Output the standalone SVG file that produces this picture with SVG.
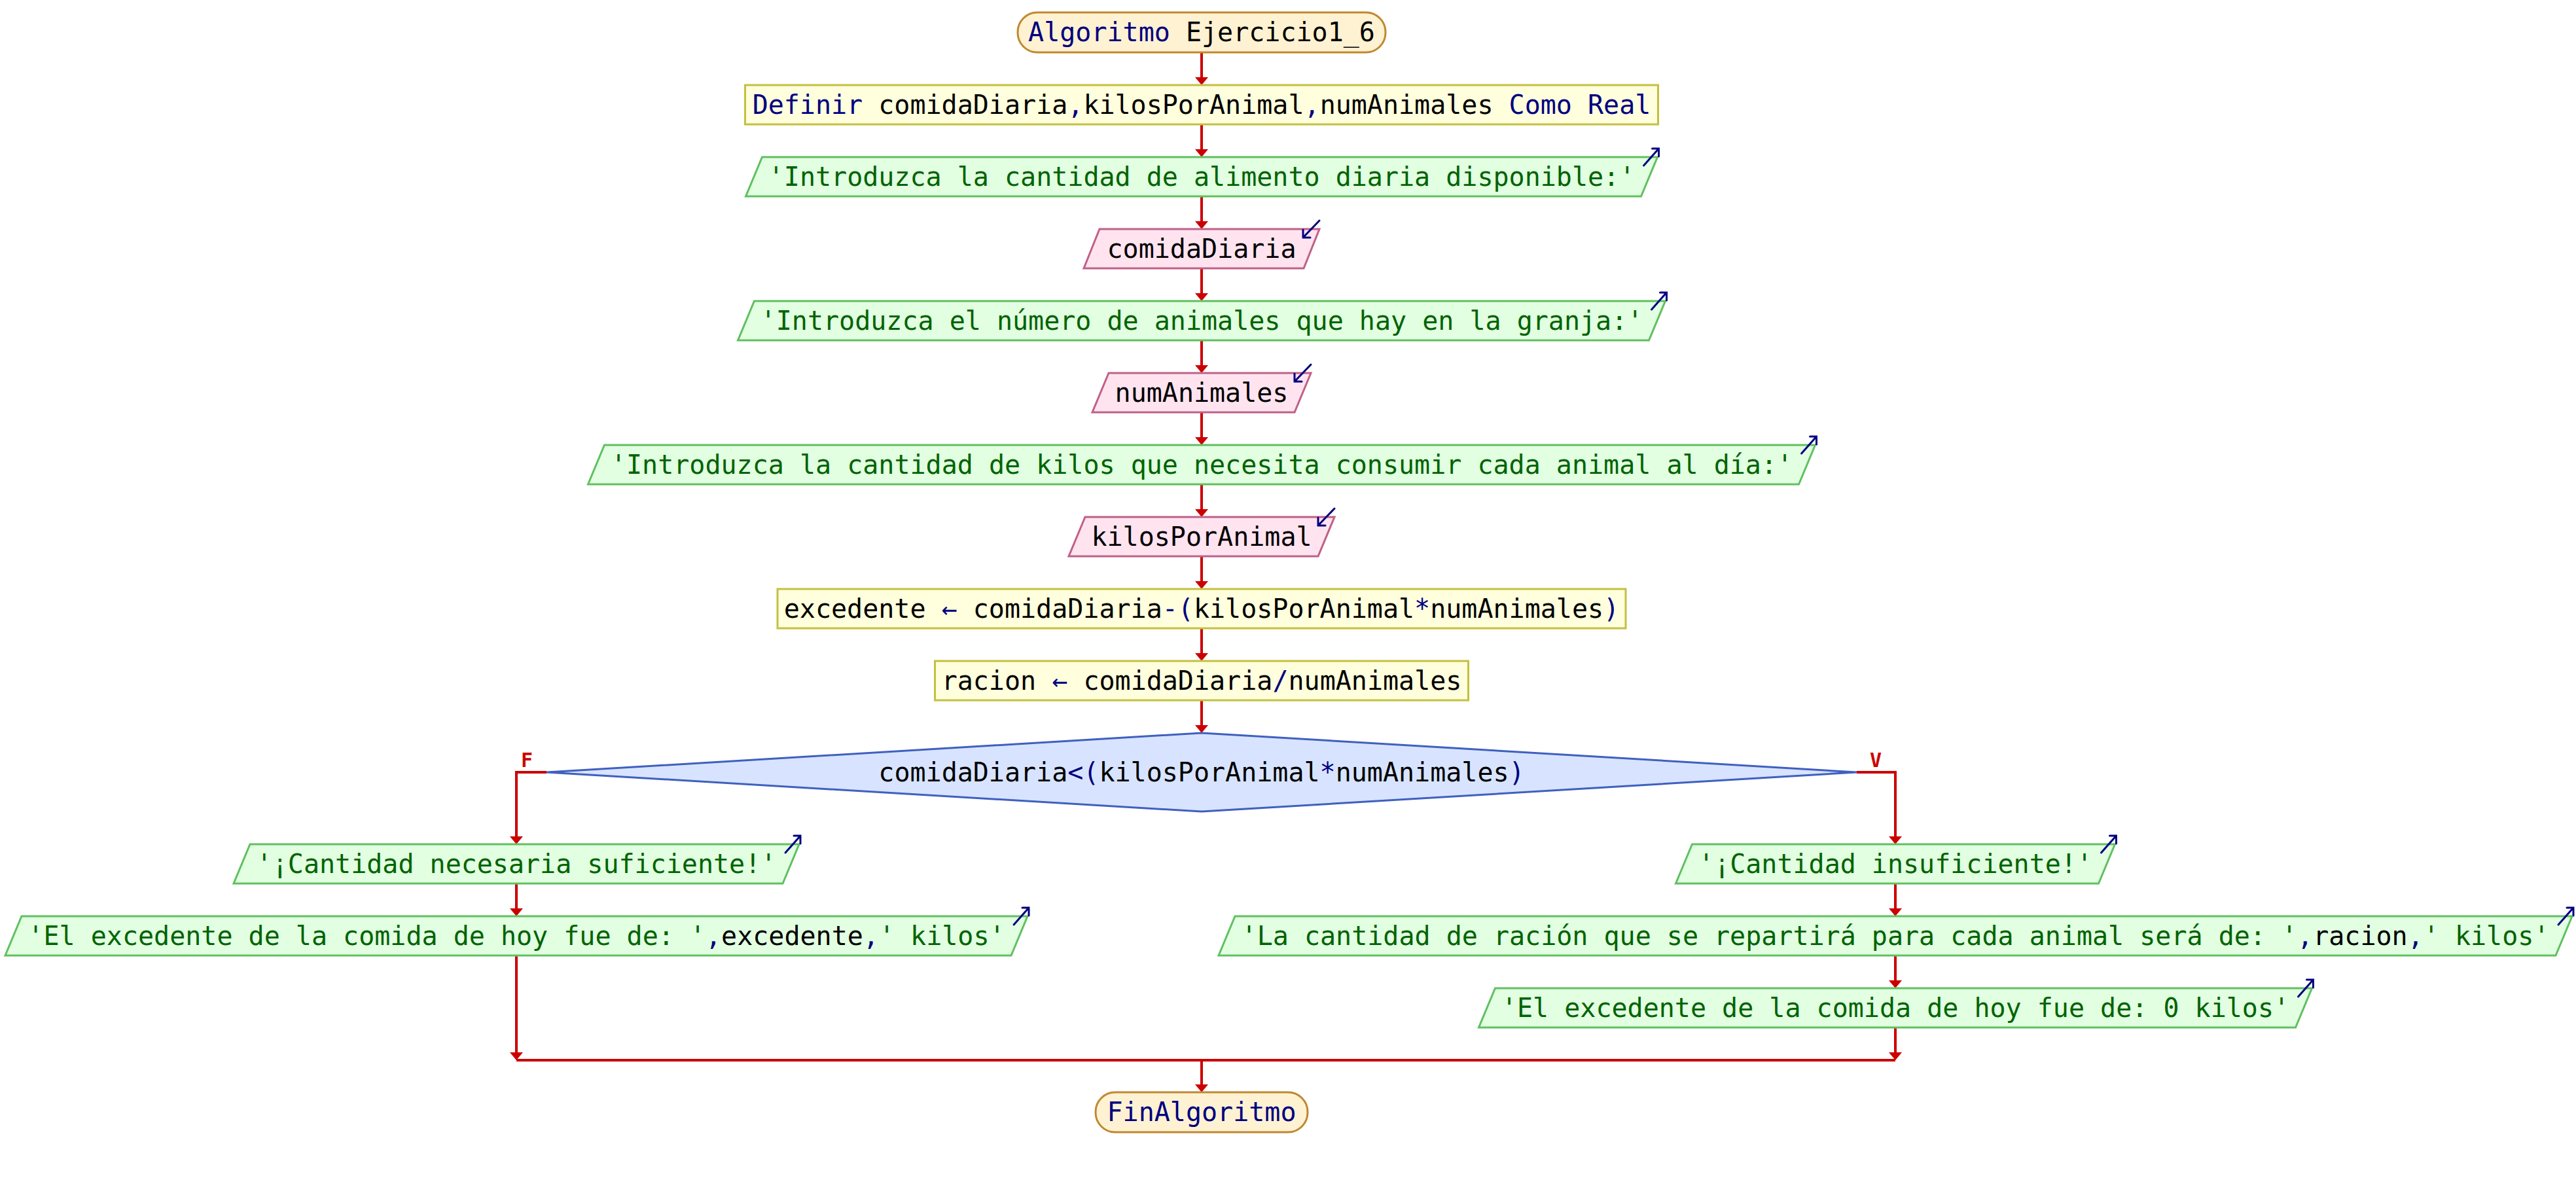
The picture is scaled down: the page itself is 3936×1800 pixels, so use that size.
<svg xmlns="http://www.w3.org/2000/svg" width="3936" height="1800" viewBox="0 0 3936 1800">
  <style>
    text { font-family: "DejaVu Sans Mono", "Liberation Mono", monospace; font-size: 40px; text-anchor: middle; }
    .kw { fill: #000080; }
    .id { fill: #000000; }
    .st { fill: #006400; }
    .term { fill: #FFF2D2; stroke: #C08830; stroke-width: 3; }
    .proc { fill: #FFFFDD; stroke: #C4C040; stroke-width: 3; }
    .out { fill: #E2FFE2; stroke: #60C060; stroke-width: 3; }
    .in { fill: #FFE4F0; stroke: #C06088; stroke-width: 3; }
    .dec { fill: #D8E4FF; stroke: #4060C0; stroke-width: 3; }
    .io { fill: none; stroke: #000080; stroke-width: 3; stroke-linecap: round; }
    .flow { fill: none; stroke: #CC0000; stroke-width: 4; }
    .lbl { font-size: 30px; font-weight: bold; fill: #CC0000; }
  </style>
  <defs>
    <marker id="ah" viewBox="0 0 12 20" refX="6" refY="10" markerWidth="12" markerHeight="20" markerUnits="userSpaceOnUse" orient="auto">
      <path d="M0,0 L12,10 L0,20 z" fill="#CC0000"/>
    </marker>
  </defs>

  <!-- connectors -->
  <g id="connectors">
    <path class="flow" d="M1836,80 V124" marker-end="url(#ah)"/>
    <path class="flow" d="M1836,190 V234" marker-end="url(#ah)"/>
    <path class="flow" d="M1836,300 V344" marker-end="url(#ah)"/>
    <path class="flow" d="M1836,410 V454" marker-end="url(#ah)"/>
    <path class="flow" d="M1836,520 V564" marker-end="url(#ah)"/>
    <path class="flow" d="M1836,630 V674" marker-end="url(#ah)"/>
    <path class="flow" d="M1836,740 V784" marker-end="url(#ah)"/>
    <path class="flow" d="M1836,850 V894" marker-end="url(#ah)"/>
    <path class="flow" d="M1836,960 V1004" marker-end="url(#ah)"/>
    <path class="flow" d="M1836,1070 V1114" marker-end="url(#ah)"/>
    <!-- false branch -->
    <path class="flow" d="M835,1180 H789 V1284" marker-end="url(#ah)"/>
    <path class="flow" d="M789,1350 V1394" marker-end="url(#ah)"/>
    <path class="flow" d="M789,1460 V1614" marker-end="url(#ah)"/>
    <!-- true branch -->
    <path class="flow" d="M2837,1180 H2896 V1284" marker-end="url(#ah)"/>
    <path class="flow" d="M2896,1350 V1394" marker-end="url(#ah)"/>
    <path class="flow" d="M2896,1460 V1504" marker-end="url(#ah)"/>
    <path class="flow" d="M2896,1570 V1614" marker-end="url(#ah)"/>
    <!-- merge -->
    <path class="flow" d="M789,1620 H2896"/>
    <path class="flow" d="M1836,1620 V1663" marker-end="url(#ah)"/>
    <text class="lbl" x="805" y="1172">F</text>
    <text class="lbl" x="2866" y="1172">V</text>
  </g>

  <g id="start">
    <rect class="term" x="1555" y="19" width="562" height="61" rx="30" ry="30"/>
    <text x="1836" y="63"><tspan class="kw">Algoritmo</tspan><tspan class="id"> Ejercicio1_6</tspan></text>
  </g>

  <g id="definir">
    <rect class="proc" x="1138.5" y="130" width="1395" height="60"/>
    <text x="1836" y="174"><tspan class="kw">Definir</tspan><tspan class="id"> comidaDiaria</tspan><tspan class="kw">,</tspan><tspan class="id">kilosPorAnimal</tspan><tspan class="kw">,</tspan><tspan class="id">numAnimales</tspan><tspan class="kw"> Como Real</tspan></text>
  </g>

  <g id="out1">
    <polygon class="out" points="1164.5,240 2532.5,240 2507.5,300 1139.5,300"/>
    <path class="io" d="M2511.5,253 L2534.5,227 M2524.5,227 H2534.5 V239"/>
    <text class="st" x="1836" y="284">'Introduzca la cantidad de alimento diaria disponible:'</text>
  </g>

  <g id="in1">
    <polygon class="in" points="1680,350 2016,350 1992,410 1656,410"/>
    <path class="io" d="M2016,337 L1991,363 M1991,351 V363 H2002"/>
    <text class="id" x="1836" y="394">comidaDiaria</text>
  </g>

  <g id="out2">
    <polygon class="out" points="1152.5,460 2544.5,460 2519.5,520 1127.5,520"/>
    <path class="io" d="M2523.5,473 L2546.5,447 M2536.5,447 H2546.5 V459"/>
    <text class="st" x="1836" y="504">'Introduzca el número de animales que hay en la granja:'</text>
  </g>

  <g id="in2">
    <polygon class="in" points="1694,570 2003,570 1978,630 1669,630"/>
    <path class="io" d="M2003,557 L1978,583 M1978,571 V583 H1989"/>
    <text class="id" x="1836" y="614">numAnimales</text>
  </g>

  <g id="out3">
    <polygon class="out" points="923.5,680 2773.5,680 2748.5,740 898.5,740"/>
    <path class="io" d="M2752.5,693 L2775.5,667 M2765.5,667 H2775.5 V679"/>
    <text class="st" x="1836" y="724">'Introduzca la cantidad de kilos que necesita consumir cada animal al día:'</text>
  </g>

  <g id="in3">
    <polygon class="in" points="1658,790 2039,790 2014,850 1633,850"/>
    <path class="io" d="M2039,777 L2014,803 M2014,791 V803 H2025"/>
    <text class="id" x="1836" y="834">kilosPorAnimal</text>
  </g>

  <g id="asig1">
    <rect class="proc" x="1188" y="900" width="1296" height="60"/>
    <text x="1836" y="944"><tspan class="id">excedente </tspan><tspan class="kw">←</tspan><tspan class="id"> comidaDiaria</tspan><tspan class="kw">-(</tspan><tspan class="id">kilosPorAnimal</tspan><tspan class="kw">*</tspan><tspan class="id">numAnimales</tspan><tspan class="kw">)</tspan></text>
  </g>

  <g id="asig2">
    <rect class="proc" x="1428.5" y="1010" width="815" height="60"/>
    <text x="1836" y="1054"><tspan class="id">racion </tspan><tspan class="kw">←</tspan><tspan class="id"> comidaDiaria</tspan><tspan class="kw">/</tspan><tspan class="id">numAnimales</tspan></text>
  </g>

  <g id="cond">
    <polygon class="dec" points="1836,1120 2837,1180 1836,1240 835,1180"/>
    <text x="1836" y="1194"><tspan class="id">comidaDiaria</tspan><tspan class="kw">&lt;(</tspan><tspan class="id">kilosPorAnimal</tspan><tspan class="kw">*</tspan><tspan class="id">numAnimales</tspan><tspan class="kw">)</tspan></text>
  </g>

  <g id="out_f1">
    <polygon class="out" points="382,1290 1221,1290 1196,1350 357,1350"/>
    <path class="io" d="M1200,1303 L1223,1277 M1213,1277 H1223 V1289"/>
    <text class="st" x="789" y="1334">'¡Cantidad necesaria suficiente!'</text>
  </g>

  <g id="out_f2">
    <polygon class="out" points="33,1400 1570,1400 1545,1460 8,1460"/>
    <path class="io" d="M1549,1413 L1572,1387 M1562,1387 H1572 V1399"/>
    <text x="789" y="1444"><tspan class="st">'El excedente de la comida de hoy fue de: '</tspan><tspan class="kw">,</tspan><tspan class="id">excedente</tspan><tspan class="kw">,</tspan><tspan class="st">' kilos'</tspan></text>
  </g>

  <g id="out_v1">
    <polygon class="out" points="2585.5,1290 3231.5,1290 3206.5,1350 2560.5,1350"/>
    <path class="io" d="M3210.5,1303 L3233.5,1277 M3223.5,1277 H3233.5 V1289"/>
    <text class="st" x="2896" y="1334">'¡Cantidad insuficiente!'</text>
  </g>

  <g id="out_v2">
    <polygon class="out" points="1887,1400 3930,1400 3905,1460 1862,1460"/>
    <path class="io" d="M3909,1413 L3932,1387 M3922,1387 H3932 V1399"/>
    <text x="2896" y="1444"><tspan class="st">'La cantidad de ración que se repartirá para cada animal será de: '</tspan><tspan class="kw">,</tspan><tspan class="id">racion</tspan><tspan class="kw">,</tspan><tspan class="st">' kilos'</tspan></text>
  </g>

  <g id="out_v3">
    <polygon class="out" points="2284.5,1510 3532.5,1510 3507.5,1570 2259.5,1570"/>
    <path class="io" d="M3511.5,1523 L3534.5,1497 M3524.5,1497 H3534.5 V1509"/>
    <text class="st" x="2896" y="1554">'El excedente de la comida de hoy fue de: 0 kilos'</text>
  </g>

  <g id="end">
    <rect class="term" x="1674" y="1669" width="324" height="61" rx="30" ry="30"/>
    <text class="kw" x="1836" y="1713">FinAlgoritmo</text>
  </g>
</svg>
